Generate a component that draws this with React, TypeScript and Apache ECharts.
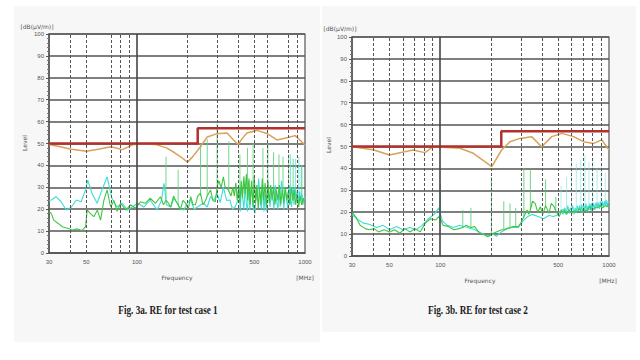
import React, { useEffect, useRef } from 'react';
import * as echarts from 'echarts';

const xLabels = [30, 50, 100, 500, 1000];
const dashedGrid1 = [40, 50, 70, 80, 90, 200, 300, 400, 500, 600, 800, 900];
const dashedGrid2 = [40, 50, 60, 70, 80, 90, 200, 300, 400, 500, 600, 700, 800, 900];
const solidGrid = [100];

const limitLine = [[30, 50], [230, 50], [230, 57], [1000, 57]];

const qp1 = [[30, 49.5], [35, 48.5], [40, 47.5], [50, 46.5], [60, 47.5], [70, 48.5], [82, 47.2], [95, 49.5], [110, 49.8], [130, 49.5], [150, 48], [166, 46], [185, 43.5], [200, 41.5], [215, 44], [239, 48.5], [262, 53], [300, 54.5], [344, 54.8], [377, 51.5], [400, 49.5], [420, 52], [452, 54.8], [518, 56], [593, 54.6], [681, 51.6], [780, 52.6], [873, 53.6], [920, 52], [1000, 49.3]];

const green1 = [[30, 19], [31, 18], [32, 15], [34, 13.5], [36, 12], [38.6, 11.3], [41.3, 10.5], [44.2, 11], [47.3, 10.3], [49.5, 12], [50.6, 19.6], [53, 18], [55.5, 16.6], [58.2, 19.6], [60.8, 15], [63.6, 24], [66.5, 28.8], [69.8, 21], [73, 24], [76.3, 19], [80, 22.7], [86, 19.6], [91.5, 22], [98, 20.4], [105, 23.4], [112, 22.7], [120, 25], [129, 22.7], [138, 25.7], [144, 22], [149, 24], [152, 23.4], [159, 21], [165, 26], [170, 24], [176, 22], [181, 19.6], [188, 24], [195, 22.7], [202, 20], [209, 25.7], [216, 22], [223, 22], [230, 26], [239, 27.3], [247, 22], [256, 24], [262, 26], [274, 28.8], [283, 24], [293, 23.4], [300, 30], [307, 33], [317, 30], [327, 34.8], [335, 30], [350, 28.8], [363, 26], [372, 30], [380, 26], [388, 32], [395, 24], [403, 30], [410, 23], [418, 33], [425, 25], [433, 35], [440, 27], [448, 36], [456, 24], [464, 34], [472, 22], [481, 33], [490, 21], [499, 35], [508, 23], [517, 31], [527, 20], [537, 30], [547, 22], [557, 34], [568, 24], [579, 32], [590, 21], [601, 33], [613, 23], [625, 31], [637, 24], [650, 30], [663, 22], [676, 29], [690, 24], [704, 31], [718, 22], [733, 29], [748, 23], [763, 30], [779, 24], [795, 28], [811, 22], [828, 30], [845, 24], [862, 29], [880, 22], [898, 27], [917, 21], [936, 26], [955, 22], [977, 25], [1000, 23]];
const greenSpikes1 = [[149, 24, 44], [176, 22, 38], [239, 26, 50], [262, 26, 52], [300, 30, 59], [352, 28, 51], [410, 24, 45], [455, 28, 48], [491, 30, 50], [562, 30, 48], [601, 30, 50], [650, 29, 46], [700, 28, 45], [740, 28, 44], [800, 27, 45], [850, 27, 43], [950, 24, 40]];

const cyan1 = [[30, 24], [31, 24.2], [33, 25.7], [35.4, 23.4], [38, 19.6], [40.8, 21], [43.6, 24.2], [46.6, 23.4], [49.5, 28.8], [51, 33.3], [54, 27.3], [58, 22.7], [62, 28.8], [66.5, 34.8], [71, 25], [76, 21], [82, 22.7], [88, 19.6], [94, 21], [101, 22.7], [110, 21], [120, 24.2], [132, 19.6], [140, 24], [145, 31.8], [150, 22], [159, 21], [166, 25], [174, 22.7], [182, 20], [190, 19.6], [200, 23], [209, 24.2], [219, 20], [229, 21], [240, 22], [250, 22.7], [262, 21], [274, 25.7], [287, 24], [300, 27.3], [313, 23], [327, 30], [342, 24], [358, 24.2], [370, 20], [384, 21], [398, 24], [405, 30], [412, 19], [419, 32], [426, 25], [433, 20], [441, 31], [448, 22], [455, 19], [462, 33], [470, 19.6], [478, 30], [487, 26], [495, 20], [504, 18.1], [512, 29], [520, 24], [530, 34], [540, 25], [550, 20], [560, 31], [570, 19], [580, 27], [590, 19], [600, 32], [610, 25], [620, 21], [631, 30], [642, 27], [653, 20], [665, 31], [677, 24], [690, 20], [701, 29], [712, 21], [724, 33], [737, 28], [749, 20], [762, 30], [776, 25], [790, 20], [804, 31], [818, 24], [832, 21], [846, 30], [860, 22], [874, 30], [887, 24], [900, 29], [913, 21], [928, 28], [943, 24], [958, 27], [972, 22], [986, 25], [1000, 25.7]];
const cyanSpikes1 = [[820, 24, 45], [880, 26, 43], [920, 24, 44], [960, 22, 40]];

const qp2 = [[30, 49.9], [40, 48.5], [50, 46.1], [69, 48.4], [81, 47.2], [91, 49.9], [131, 49.2], [157, 46.9], [202, 40.8], [231, 48.4], [259, 52.2], [297, 53.7], [348, 54.5], [399, 49.9], [458, 54.5], [526, 56], [616, 54.5], [706, 52.2], [810, 51.4], [906, 53], [1000, 48.4]];

const green2 = [[30, 20], [31.5, 18], [33.5, 14], [36, 12.5], [38, 12], [40.6, 12.5], [43, 11], [46.5, 12], [50, 11], [53.7, 12], [57.6, 10.4], [61.7, 12.5], [66, 11], [71, 12.5], [76, 11], [81.6, 15], [87.5, 17], [93.8, 16.4], [98, 18], [100, 17], [104, 14], [112, 13.4], [120, 12], [129, 12.5], [136, 13], [142, 14], [152, 13], [160, 13.4], [171, 10.4], [185, 9.5], [191, 8.8], [196, 9.5], [201, 10], [215, 11], [231, 12], [238, 12], [247, 12.5], [259, 13], [271, 13.4], [280, 13.5], [290, 13.4], [300, 15], [313, 18], [327, 21], [335, 19], [342, 21], [352, 25], [365, 24], [378, 20], [392, 22.5], [405, 19], [421, 23], [441, 19.5], [455, 24], [473, 22.5], [484, 20.5], [507, 18], [525, 21], [541, 21], [560, 19], [581, 21], [600, 19.5], [622, 20.5], [645, 20], [668, 21.5], [690, 20], [716, 21], [742, 20.5], [769, 22.5], [795, 21], [824, 22], [855, 22], [884, 23], [915, 22], [950, 23], [975, 22.5], [1000, 24]];
const greenSpikes2 = [[100, 18, 33], [136, 13, 21], [152, 13, 22], [201, 10, 36], [238, 12, 25], [259, 13, 24], [280, 13.5, 22], [313, 17, 40], [342, 21, 40], [421, 22, 35], [484, 21, 27]];

const cyan2 = [[30, 19], [32, 17], [35, 15], [38, 14.5], [42, 13], [46, 14], [50, 12], [55, 13.5], [60, 12], [66, 13], [72, 12], [78, 14], [85, 17], [92, 19], [98, 22], [103, 16], [110, 14], [120, 13], [130, 14], [145, 13], [160, 12], [175, 10.5], [185, 9.5], [195, 9], [205, 10], [215, 9], [230, 11], [250, 12.5], [270, 13], [290, 13], [310, 16], [330, 18], [350, 19], [380, 18], [410, 17], [440, 18.5], [470, 18], [500, 19], [520, 21], [535, 19], [545, 22], [560, 20], [570, 23], [580, 19.5], [590, 22], [600, 21], [610, 23], [620, 19], [630, 22], [640, 20], [650, 23], [660, 20.5], [670, 23], [680, 20], [690, 23.5], [700, 19.5], [710, 23], [720, 21], [730, 24], [740, 20], [750, 23], [760, 21], [770, 24], [780, 20.5], [790, 24], [800, 21], [812, 24], [825, 21], [838, 24.5], [850, 22], [862, 24.5], [875, 21.5], [888, 25], [900, 22], [912, 25], [925, 22], [938, 25], [950, 23], [962, 25.5], [975, 22.5], [988, 25], [1000, 24.5]];
const cyanSpikes2 = [[520, 19, 32], [560, 20, 36], [600, 21, 45], [640, 20, 42], [680, 20, 44], [720, 21, 46], [760, 21, 43], [800, 21, 45], [850, 22, 40], [900, 22, 42], [950, 23, 38]];

const yTitle = '[dB(μV/m)]';
const yName = 'Level';
const xName = 'Frequency';
const xUnit = '[MHz]';
const titles = ['Fig. 3a. RE for test case 1', 'Fig. 3b. RE for test case 2'];

const GREEN = '#3fc63f';
const CYAN = '#3fdcd4';
const ORANGE = '#d9a159';
const RED = '#b3302b';

function gridLines(dashed: number[]) {
  return dashed
    .map((v) => ({ xAxis: v, lineStyle: { type: [3, 2], width: 1, color: '#555' } }))
    .concat(solidGrid.map((v) => ({ xAxis: v, lineStyle: { type: 'solid', width: 1.6, color: '#444' } })) as any);
}

function spikeData(spikes: number[][]) {
  const out: any[] = [];
  spikes.forEach(([f, lo, hi]) => {
    out.push([f, lo], [f, hi], [f, '-']);
  });
  return out;
}

function seriesFor(idx: number, dashed: number[], green: number[][], cyan: number[][], qp: number[][], gSp: number[][], cSp: number[][], gSpColor: string, cSpColor: string) {
  const base = { type: 'line', xAxisIndex: idx, yAxisIndex: idx, showSymbol: false, silent: true };
  return [
    { ...base, data: [], markLine: { silent: true, symbol: ['none', 'none'], label: { show: false }, data: gridLines(dashed) } },
    { ...base, data: spikeData(cSp), connectNulls: false, lineStyle: { color: cSpColor, width: 1 } },
    { ...base, data: spikeData(gSp), connectNulls: false, lineStyle: { color: gSpColor, width: 1 } },
    { ...base, data: cyan, lineStyle: { color: CYAN, width: 1.1 } },
    { ...base, data: green, lineStyle: { color: GREEN, width: 1.1 } },
    { ...base, data: qp, lineStyle: { color: ORANGE, width: 1.5 } },
    { ...base, data: limitLine, lineStyle: { color: RED, width: 2.5 } },
  ];
}

function xAxisFor(idx: number) {
  return {
    type: 'log', logBase: 10, min: 30, max: 1000, gridIndex: idx,
    axisLine: { show: true, lineStyle: { color: '#555', width: 1.5 } },
    axisTick: { show: false },
    splitLine: { show: false },
    axisLabel: { customValues: xLabels, fontSize: 6, color: '#555', margin: 6, formatter: (v: number) => String(Math.round(v)) },
  };
}

function yAxisFor(idx: number) {
  return {
    type: 'value', min: 0, max: 100, interval: 10, gridIndex: idx,
    axisLine: { show: true, lineStyle: { color: '#555', width: 1.5 } },
    axisTick: { show: true, length: 3, lineStyle: { color: '#555' } },
    minorTick: { show: true, splitNumber: 5, length: 2, lineStyle: { color: '#777' } },
    splitLine: { show: true, lineStyle: { color: '#555', width: 1.6 } },
    axisLabel: { fontSize: 6, color: '#555', margin: 5 },
  };
}

const smallText = (text: string, x: number, y: number, extra: any = {}) => ({
  type: 'text', x, y, ...extra,
  style: { text, fontSize: 6, fill: '#555', fontFamily: 'DejaVu Sans', textAlign: 'center', textVerticalAlign: 'middle' },
});

export default function App() {
  const ref = useRef<HTMLDivElement>(null);
  useEffect(() => {
    document.body.style.margin = '0';
    const chart = echarts.init(ref.current!, null, { renderer: 'svg' });
    chart.setOption({
      animation: false,
      backgroundColor: '#ffffff',
      grid: [
        { left: 49, top: 34, width: 256, height: 219, show: true, borderColor: '#555', borderWidth: 1.2, backgroundColor: '#fff' },
        { left: 352, top: 37, width: 257, height: 219, show: true, borderColor: '#555', borderWidth: 1.2, backgroundColor: '#fff' },
      ],
      xAxis: [xAxisFor(0), xAxisFor(1)],
      yAxis: [yAxisFor(0), yAxisFor(1)],
      series: [
        ...seriesFor(0, dashedGrid1, green1, cyan1, qp1, greenSpikes1, cyanSpikes1, 'rgba(90,210,120,0.85)', 'rgba(90,225,220,0.8)'),
        ...seriesFor(1, dashedGrid2, green2, cyan2, qp2, greenSpikes2, cyanSpikes2, 'rgba(80,200,110,0.8)', 'rgba(120,230,225,0.6)'),
      ],
      graphic: [
        { type: 'rect', z: -10, silent: true, shape: { x: 14, y: 6, width: 306, height: 336 }, style: { fill: '#f7f7f7' } },
        { type: 'rect', z: -10, silent: true, shape: { x: 322, y: 6, width: 314, height: 326 }, style: { fill: '#f7f7f7' } },
        smallText(yTitle, 37, 26),
        smallText(yName, 24, 143, { rotation: Math.PI / 2 }),
        smallText(xName, 177, 277),
        smallText(xUnit, 305, 277),
        smallText(yTitle, 340, 28),
        smallText(yName, 328, 145, { rotation: Math.PI / 2 }),
        smallText(xName, 480, 280),
        smallText(xUnit, 608, 280),
        {
          type: 'text', x: 168, y: 310, scaleX: 0.8,
          style: { text: titles[0], fontSize: 11.5, fontWeight: 'bold', fill: '#222', fontFamily: 'Liberation Serif', textAlign: 'center', textVerticalAlign: 'middle' },
        },
        {
          type: 'text', x: 478, y: 310, scaleX: 0.8,
          style: { text: titles[1], fontSize: 11.5, fontWeight: 'bold', fill: '#222', fontFamily: 'Liberation Serif', textAlign: 'center', textVerticalAlign: 'middle' },
        },
      ],
    });
    return () => chart.dispose();
  }, []);
  return <div ref={ref} style={{ width: 640, height: 360 }} />;
}
